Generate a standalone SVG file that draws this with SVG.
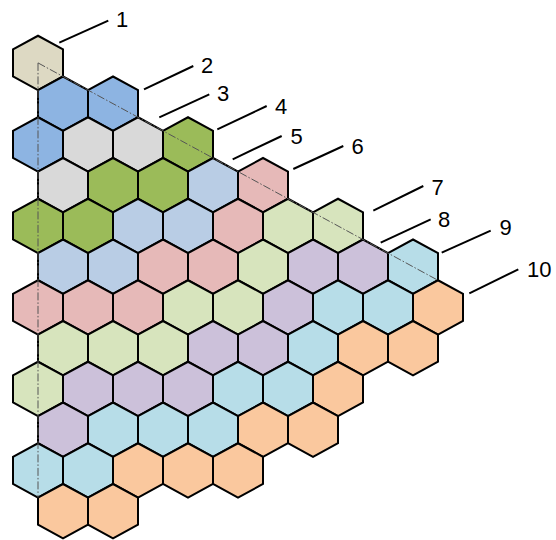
<svg xmlns="http://www.w3.org/2000/svg" xmlns:xlink="http://www.w3.org/1999/xlink" width="556" height="540" viewBox="0 0 556 540">
<style>
.hx{stroke:#000;stroke-width:2;stroke-linejoin:miter}
.be{fill:#ddd9c3}.bl{fill:#8db4e2}.gy{fill:#d9d9d9}.gn{fill:#9bbb59}.lb{fill:#b9cde5}.pk{fill:#e6b9b8}.lg{fill:#d7e4bd}.pu{fill:#ccc1da}.cy{fill:#b7dde8}.or{fill:#fac89e}
.ld{stroke:#000;stroke-width:2;fill:none}
.ax{stroke:#555;stroke-width:1;fill:none;stroke-dasharray:8 2 1.5 2}
.lb2{font-family:"Liberation Sans",Arial,sans-serif;font-size:22px;fill:#000}
</style>
<defs>
<polygon id="hx" class="hx" points="0,-27.15 25,-13.6 25,13.6 0,27.15 -25,13.6 -25,-13.6"/>
</defs>
<g id="hexes">
<g id="r0"><use href="#hx" x="38" y="62.9" class="be"/></g>
<g id="r1"><use href="#hx" x="63" y="103.65" class="bl"/><use href="#hx" x="113" y="103.65" class="bl"/></g>
<g id="r2"><use href="#hx" x="38" y="144.4" class="bl"/><use href="#hx" x="88" y="144.4" class="gy"/><use href="#hx" x="138" y="144.4" class="gy"/><use href="#hx" x="188" y="144.4" class="gn"/></g>
<g id="r3"><use href="#hx" x="63" y="185.15" class="gy"/><use href="#hx" x="113" y="185.15" class="gn"/><use href="#hx" x="163" y="185.15" class="gn"/><use href="#hx" x="213" y="185.15" class="lb"/><use href="#hx" x="263" y="185.15" class="pk"/></g>
<g id="r4"><use href="#hx" x="38" y="225.9" class="gn"/><use href="#hx" x="88" y="225.9" class="gn"/><use href="#hx" x="138" y="225.9" class="lb"/><use href="#hx" x="188" y="225.9" class="lb"/><use href="#hx" x="238" y="225.9" class="pk"/><use href="#hx" x="288" y="225.9" class="lg"/><use href="#hx" x="338" y="225.9" class="lg"/></g>
<g id="r5"><use href="#hx" x="63" y="266.65" class="lb"/><use href="#hx" x="113" y="266.65" class="lb"/><use href="#hx" x="163" y="266.65" class="pk"/><use href="#hx" x="213" y="266.65" class="pk"/><use href="#hx" x="263" y="266.65" class="lg"/><use href="#hx" x="313" y="266.65" class="pu"/><use href="#hx" x="363" y="266.65" class="pu"/><use href="#hx" x="413" y="266.65" class="cy"/></g>
<g id="r6"><use href="#hx" x="38" y="307.4" class="pk"/><use href="#hx" x="88" y="307.4" class="pk"/><use href="#hx" x="138" y="307.4" class="pk"/><use href="#hx" x="188" y="307.4" class="lg"/><use href="#hx" x="238" y="307.4" class="lg"/><use href="#hx" x="288" y="307.4" class="pu"/><use href="#hx" x="338" y="307.4" class="cy"/><use href="#hx" x="388" y="307.4" class="cy"/><use href="#hx" x="438" y="307.4" class="or"/></g>
<g id="r7"><use href="#hx" x="63" y="348.15" class="lg"/><use href="#hx" x="113" y="348.15" class="lg"/><use href="#hx" x="163" y="348.15" class="lg"/><use href="#hx" x="213" y="348.15" class="pu"/><use href="#hx" x="263" y="348.15" class="pu"/><use href="#hx" x="313" y="348.15" class="cy"/><use href="#hx" x="363" y="348.15" class="or"/><use href="#hx" x="413" y="348.15" class="or"/></g>
<g id="r8"><use href="#hx" x="38" y="388.9" class="lg"/><use href="#hx" x="88" y="388.9" class="pu"/><use href="#hx" x="138" y="388.9" class="pu"/><use href="#hx" x="188" y="388.9" class="pu"/><use href="#hx" x="238" y="388.9" class="cy"/><use href="#hx" x="288" y="388.9" class="cy"/><use href="#hx" x="338" y="388.9" class="or"/></g>
<g id="r9"><use href="#hx" x="63" y="429.65" class="pu"/><use href="#hx" x="113" y="429.65" class="cy"/><use href="#hx" x="163" y="429.65" class="cy"/><use href="#hx" x="213" y="429.65" class="cy"/><use href="#hx" x="263" y="429.65" class="or"/><use href="#hx" x="313" y="429.65" class="or"/></g>
<g id="r10"><use href="#hx" x="38" y="470.4" class="cy"/><use href="#hx" x="88" y="470.4" class="cy"/><use href="#hx" x="138" y="470.4" class="or"/><use href="#hx" x="188" y="470.4" class="or"/><use href="#hx" x="238" y="470.4" class="or"/></g>
<g id="r11"><use href="#hx" x="63" y="511.15" class="or"/><use href="#hx" x="113" y="511.15" class="or"/></g>
</g>
<g id="axes">
<line class="ax" x1="38" y1="62.9" x2="38" y2="497.5"/>
<line class="ax" x1="38" y1="62.9" x2="438" y2="280.3"/>
</g>
<g id="connectors">
<line class="ld" x1="59.3" y1="42.7" x2="108.3" y2="20.7"/>
<line class="ld" x1="144" y1="89.3" x2="193.3" y2="66"/>
<line class="ld" x1="159.3" y1="117.3" x2="209.3" y2="94.3"/>
<line class="ld" x1="217.3" y1="129.3" x2="266.7" y2="106"/>
<line class="ld" x1="232.7" y1="159.3" x2="281.7" y2="136"/>
<line class="ld" x1="293.3" y1="169" x2="343.3" y2="146"/>
<line class="ld" x1="373.3" y1="210.7" x2="423.3" y2="186"/>
<line class="ld" x1="380.7" y1="242.7" x2="430.7" y2="219.3"/>
<line class="ld" x1="441.7" y1="252.7" x2="490.7" y2="230.7"/>
<line class="ld" x1="469.3" y1="293.3" x2="518.3" y2="269.3"/>
</g>
<g id="labels">
<text class="lb2" x="116" y="27">1</text>
<text class="lb2" x="201" y="72.5">2</text>
<text class="lb2" x="217" y="101">3</text>
<text class="lb2" x="275" y="113.5">4</text>
<text class="lb2" x="290.5" y="143.5">5</text>
<text class="lb2" x="351.5" y="153.5">6</text>
<text class="lb2" x="431.5" y="195">7</text>
<text class="lb2" x="438" y="227">8</text>
<text class="lb2" x="499.5" y="235">9</text>
<text class="lb2" x="527" y="277">10</text>
</g>
</svg>
